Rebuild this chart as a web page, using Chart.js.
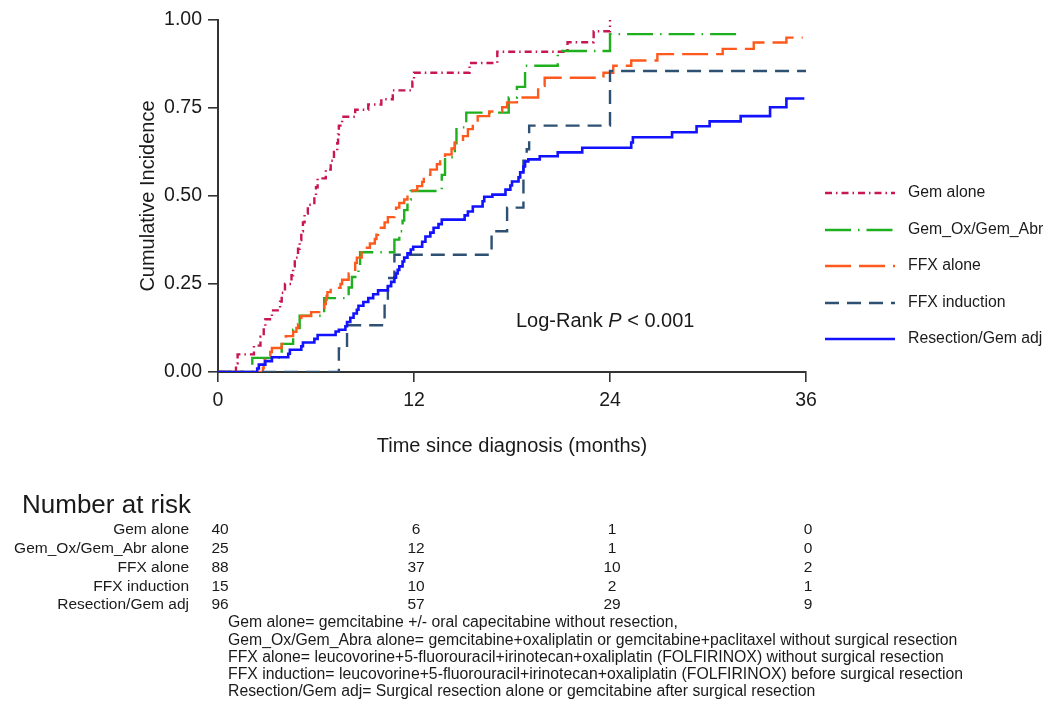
<!DOCTYPE html>
<html><head><meta charset="utf-8">
<script src="https://cdn.jsdelivr.net/npm/chart.js@4.4.1/dist/chart.umd.min.js"></script>
<style>html,body{margin:0;padding:0;background:#fff;overflow:hidden}#wrap{width:1046px;height:701px;position:relative}</style>
</head><body><div id="wrap"><canvas id="c" width="1046" height="701"></canvas></div>
<script>
// ---- data (months since diagnosis, cumulative incidence) ----
const gemAloneMonths = [0, 1.1, 1.2, 2.2, 2.6, 2.8, 2.9, 3.3, 3.8, 3.9, 4.1, 4.5, 4.6, 4.7, 4.9, 5.0, 5.1, 5.2, 5.3, 5.5, 5.9, 6.0, 6.1, 6.6, 6.9, 7.1, 7.3, 7.35, 7.4, 7.6, 8.4, 9.2, 10.0, 10.7, 11.9, 12.0, 15.4, 17.1, 21.4, 23.0, 24.0];
const gemAloneCI = [0, .025, .05, .075, .1, .125, .15, .175, .2, .225, .25, .275, .3, .325, .35, .375, .4, .425, .45, .475, .5, .525, .55, .575, .6, .625, .65, .675, .7, .725, .745, .76, .775, .80, .825, .85, .878, .91, .937, .968, 1.0];

const gemOxMonths = [0, 2.1, 3.9, 4.6, 5.0, 6.5, 8.0, 8.2, 8.6, 8.7, 10.8, 11.1, 11.3, 11.4, 11.6, 11.8, 13.7, 13.9, 14.5, 14.6, 15.2, 17.8, 18.3, 18.8, 20.8, 24.0, 31.8];
const gemOxCI = [0, .04, .08, .12, .16, .21, .24, .27, .30, .34, .376, .40, .43, .46, .49, .514, .56, .61, .65, .695, .737, .78, .81, .87, .912, .96, .96];

const ffxAloneMonths = [0, 2.75, 2.8, 2.85, 2.9, 3.2, 3.3, 3.9, 4.1, 4.15, 4.6, 4.8, 4.9, 4.95, 5.1, 5.7, 6.2, 6.5, 6.6, 6.65, 6.7, 6.9, 7.5, 7.6, 8.0, 8.2, 8.4, 8.5, 8.8, 9.0, 9.3, 9.6, 9.7, 9.8, 10.2, 10.4, 10.8, 10.9, 11.1, 11.4, 11.6, 11.9, 12.2, 12.5, 12.6, 13.0, 13.4, 13.6, 13.9, 14.3, 14.5, 15.0, 15.3, 15.6, 15.9, 16.6, 17.4, 17.7, 18.3, 19.6, 20.0, 23.6, 24.2, 25.3, 26.9, 30.9, 32.8, 34.8, 35.8];
const ffxAloneCI = [0, .011, .023, .034, .045, .057, .068, .08, .091, .102, .114, .125, .136, .148, .159, .17, .182, .193, .205, .216, .227, .239, .25, .262, .28, .29, .31, .325, .34, .353, .365, .378, .39, .41, .425, .44, .455, .467, .48, .49, .504, .516, .528, .54, .56, .575, .59, .604, .618, .635, .652, .67, .69, .707, .727, .74, .752, .766, .78, .813, .836, .85, .87, .885, .903, .918, .936, .95, .95];

const ffxInductionMonths = [0, 7.4, 7.9, 10.2, 10.4, 10.8, 16.75, 17.7, 18.7, 18.9, 19.05, 24.0, 36.0];
const ffxInductionCI = [0, .067, .133, .2, .267, .333, .40, .467, .60, .633, .70, .855, .855];

const resectionMonths = [0, 2.4, 2.5, 2.9, 3.3, 4.3, 4.4, 5.1, 5.2, 5.9, 6.1, 7.2, 7.4, 7.8, 7.9, 8.1, 8.3, 8.5, 8.6, 8.9, 9.2, 9.5, 9.8, 10.4, 10.6, 10.8, 10.9, 11.0, 11.1, 11.3, 11.4, 11.6, 11.8, 11.95, 12.5, 12.7, 13.0, 13.2, 13.5, 13.7, 15.1, 15.3, 15.6, 16.2, 16.3, 16.8, 17.6, 17.9, 18.0, 18.4, 18.5, 18.7, 18.8, 19.0, 19.7, 20.8, 22.3, 25.3, 25.4, 27.8, 29.3, 30.1, 32.0, 33.8, 34.8, 35.9];
const resectionCI = [0, .01, .021, .031, .042, .052, .063, .073, .084, .094, .105, .115, .12, .13, .142, .154, .166, .177, .188, .199, .21, .221, .232, .244, .256, .268, .28, .29, .30, .314, .325, .337, .348, .356, .37, .385, .396, .41, .42, .433, .445, .456, .47, .485, .498, .504, .518, .53, .541, .553, .567, .584, .598, .604, .613, .624, .637, .652, .667, .681, .698, .712, .727, .752, .777, .777];

const seriesNames = ['Gem alone', 'Gem_Ox/Gem_Abr', 'FFX alone', 'FFX induction', 'Resection/Gem adj'];
const xTicks = [0, 12, 24, 36];
const yTicks = [0, 0.25, 0.5, 0.75, 1];

const riskTimes = [0, 12, 24, 36];
const riskLabels = ['Gem alone', 'Gem_Ox/Gem_Abr alone', 'FFX alone', 'FFX induction', 'Resection/Gem adj'];
const riskGemAlone = [40, 6, 1, 0];
const riskGemOx = [25, 12, 1, 0];
const riskFfxAlone = [88, 37, 10, 2];
const riskFfxInduction = [15, 10, 2, 1];
const riskResection = [96, 57, 29, 9];

const footnotes = [
  'Gem alone= gemcitabine +/- oral capecitabine without resection,',
  'Gem_Ox/Gem_Abra alone= gemcitabine+oxaliplatin or gemcitabine+paclitaxel without surgical resection',
  'FFX alone= leucovorine+5-fluorouracil+irinotecan+oxaliplatin (FOLFIRINOX) without surgical resection',
  'FFX induction= leucovorine+5-fluorouracil+irinotecan+oxaliplatin (FOLFIRINOX) before surgical resection',
  'Resection/Gem adj= Surgical resection alone or gemcitabine after surgical resection'
];

// ---- styles ----
const FONT = "'Liberation Sans', Arial, Helvetica, sans-serif";
const TXT = '#1a1a1a';
const styles = [
  {color: '#c8164f', dash: [7, 4, 1.5, 4]},
  {color: '#1fb01f', dash: [26, 7, 1.5, 7]},
  {color: '#ff5a1e', dash: [26, 8]},
  {color: '#2e5072', dash: [14, 8]},
  {color: '#1212ff', dash: []}
];

function zip(xs, ys) { const n = Math.min(xs.length, ys.length); const out = []; for (let i = 0; i < n; i++) out.push({x: xs[i], y: ys[i]}); return out; }
const seriesData = [
  zip(gemAloneMonths, gemAloneCI),
  zip(gemOxMonths, gemOxCI),
  zip(ffxAloneMonths, ffxAloneCI),
  zip(ffxInductionMonths, ffxInductionCI),
  zip(resectionMonths, resectionCI)
];
const riskRows = [riskGemAlone, riskGemOx, riskFfxAlone, riskFfxInduction, riskResection];

const datasets = seriesNames.map((name, i) => ({
  label: name,
  data: seriesData[i],
  borderColor: styles[i].color,
  borderDash: styles[i].dash,
  borderWidth: i === 4 ? 2.6 : 2.4,
  stepped: 'before',
  pointRadius: 0,
  fill: false,
  tension: 0,
  order: 4 - i
}));

const overlay = {
  id: 'overlay',
  afterDraw(chart) {
    const ctx = chart.ctx;
    const xs = chart.scales.x;
    ctx.save();
    ctx.fillStyle = TXT;
    ctx.textBaseline = 'middle';
    // Log-rank annotation
    ctx.font = '20px ' + FONT;
    ctx.textAlign = 'left';
    let x = 516; const yLR = 321;
    ctx.fillText('Log-Rank ', x, yLR); x += ctx.measureText('Log-Rank ').width;
    ctx.font = 'italic 20px ' + FONT;
    ctx.fillText('P', x, yLR); x += ctx.measureText('P').width;
    ctx.font = '20px ' + FONT;
    ctx.fillText(' < 0.001', x, yLR);

    // legend
    const legY = [193, 230, 266, 303, 339];
    seriesNames.forEach((name, i) => {
      ctx.save();
      ctx.strokeStyle = styles[i].color;
      ctx.lineWidth = 2.4;
      ctx.setLineDash(styles[i].dash);
      ctx.beginPath(); ctx.moveTo(825, legY[i]); ctx.lineTo(895, legY[i]); ctx.stroke();
      ctx.restore();
      ctx.font = '15.8px ' + FONT;
      ctx.textAlign = 'left';
      ctx.fillText(name, 908, legY[i]);
    });

    // number at risk
    ctx.font = '26px ' + FONT;
    ctx.textAlign = 'left';
    ctx.fillText('Number at risk', 22, 506);
    const rowY = [530, 548.75, 567.5, 586.25, 605];
    ctx.font = '15.5px ' + FONT;
    riskLabels.forEach((lab, r) => {
      ctx.textAlign = 'right';
      ctx.fillText(lab, 189, rowY[r]);
      ctx.textAlign = 'center';
      riskRows[r].forEach((v, k) => {
        ctx.fillText(String(v), xs.getPixelForValue(riskTimes[k]) + 2, rowY[r]);
      });
    });

    // footnotes (condensed to fit)
    ctx.font = '16px ' + FONT;
    ctx.textAlign = 'left';
    const w = ctx.measureText(footnotes[3]).width;
    const sx = 735 / w;
    const fy = [623, 641, 658, 675, 692];
    footnotes.forEach((t, i) => {
      ctx.save();
      ctx.translate(228, fy[i]);
      ctx.scale(sx, 1);
      ctx.fillText(t, 0, 0);
      ctx.restore();
    });
    ctx.restore();
  }
};

Chart.defaults.font.family = FONT;
Chart.defaults.color = TXT;

new Chart(document.getElementById('c').getContext('2d'), {
  type: 'line',
  data: {datasets},
  options: {
    responsive: false,
    animation: false,
    devicePixelRatio: 1,
    layout: {padding: {left: 136, top: 20, right: 240, bottom: 243}},
    plugins: {legend: {display: false}, tooltip: {enabled: false}},
    scales: {
      x: {
        type: 'linear', min: 0, max: 36,
        afterBuildTicks(s) { s.ticks = xTicks.map(v => ({value: v})); },
        ticks: {font: {size: 19.5}, color: TXT, padding: 7, maxRotation: 0, autoSkip: false},
        grid: {drawOnChartArea: false, tickLength: 10, color: '#333', lineWidth: 1.6},
        border: {color: '#333', width: 2},
        title: {display: true, text: 'Time since diagnosis (months)', font: {size: 20}, color: TXT, padding: 0},
        afterFit(s) { s.height = 86; }
      },
      y: {
        min: 0, max: 1,
        afterBuildTicks(s) { s.ticks = yTicks.map(v => ({value: v})); },
        ticks: {font: {size: 19.5}, color: TXT, padding: 6, callback: v => Number(v).toFixed(2)},
        grid: {drawOnChartArea: false, tickLength: 10, color: '#333', lineWidth: 1.6},
        border: {color: '#333', width: 2},
        title: {display: true, text: 'Cumulative Incidence', font: {size: 20}, color: TXT, padding: 0},
        afterFit(s) { s.width = 82; }
      }
    }
  },
  plugins: [overlay]
});
</script></body></html>
